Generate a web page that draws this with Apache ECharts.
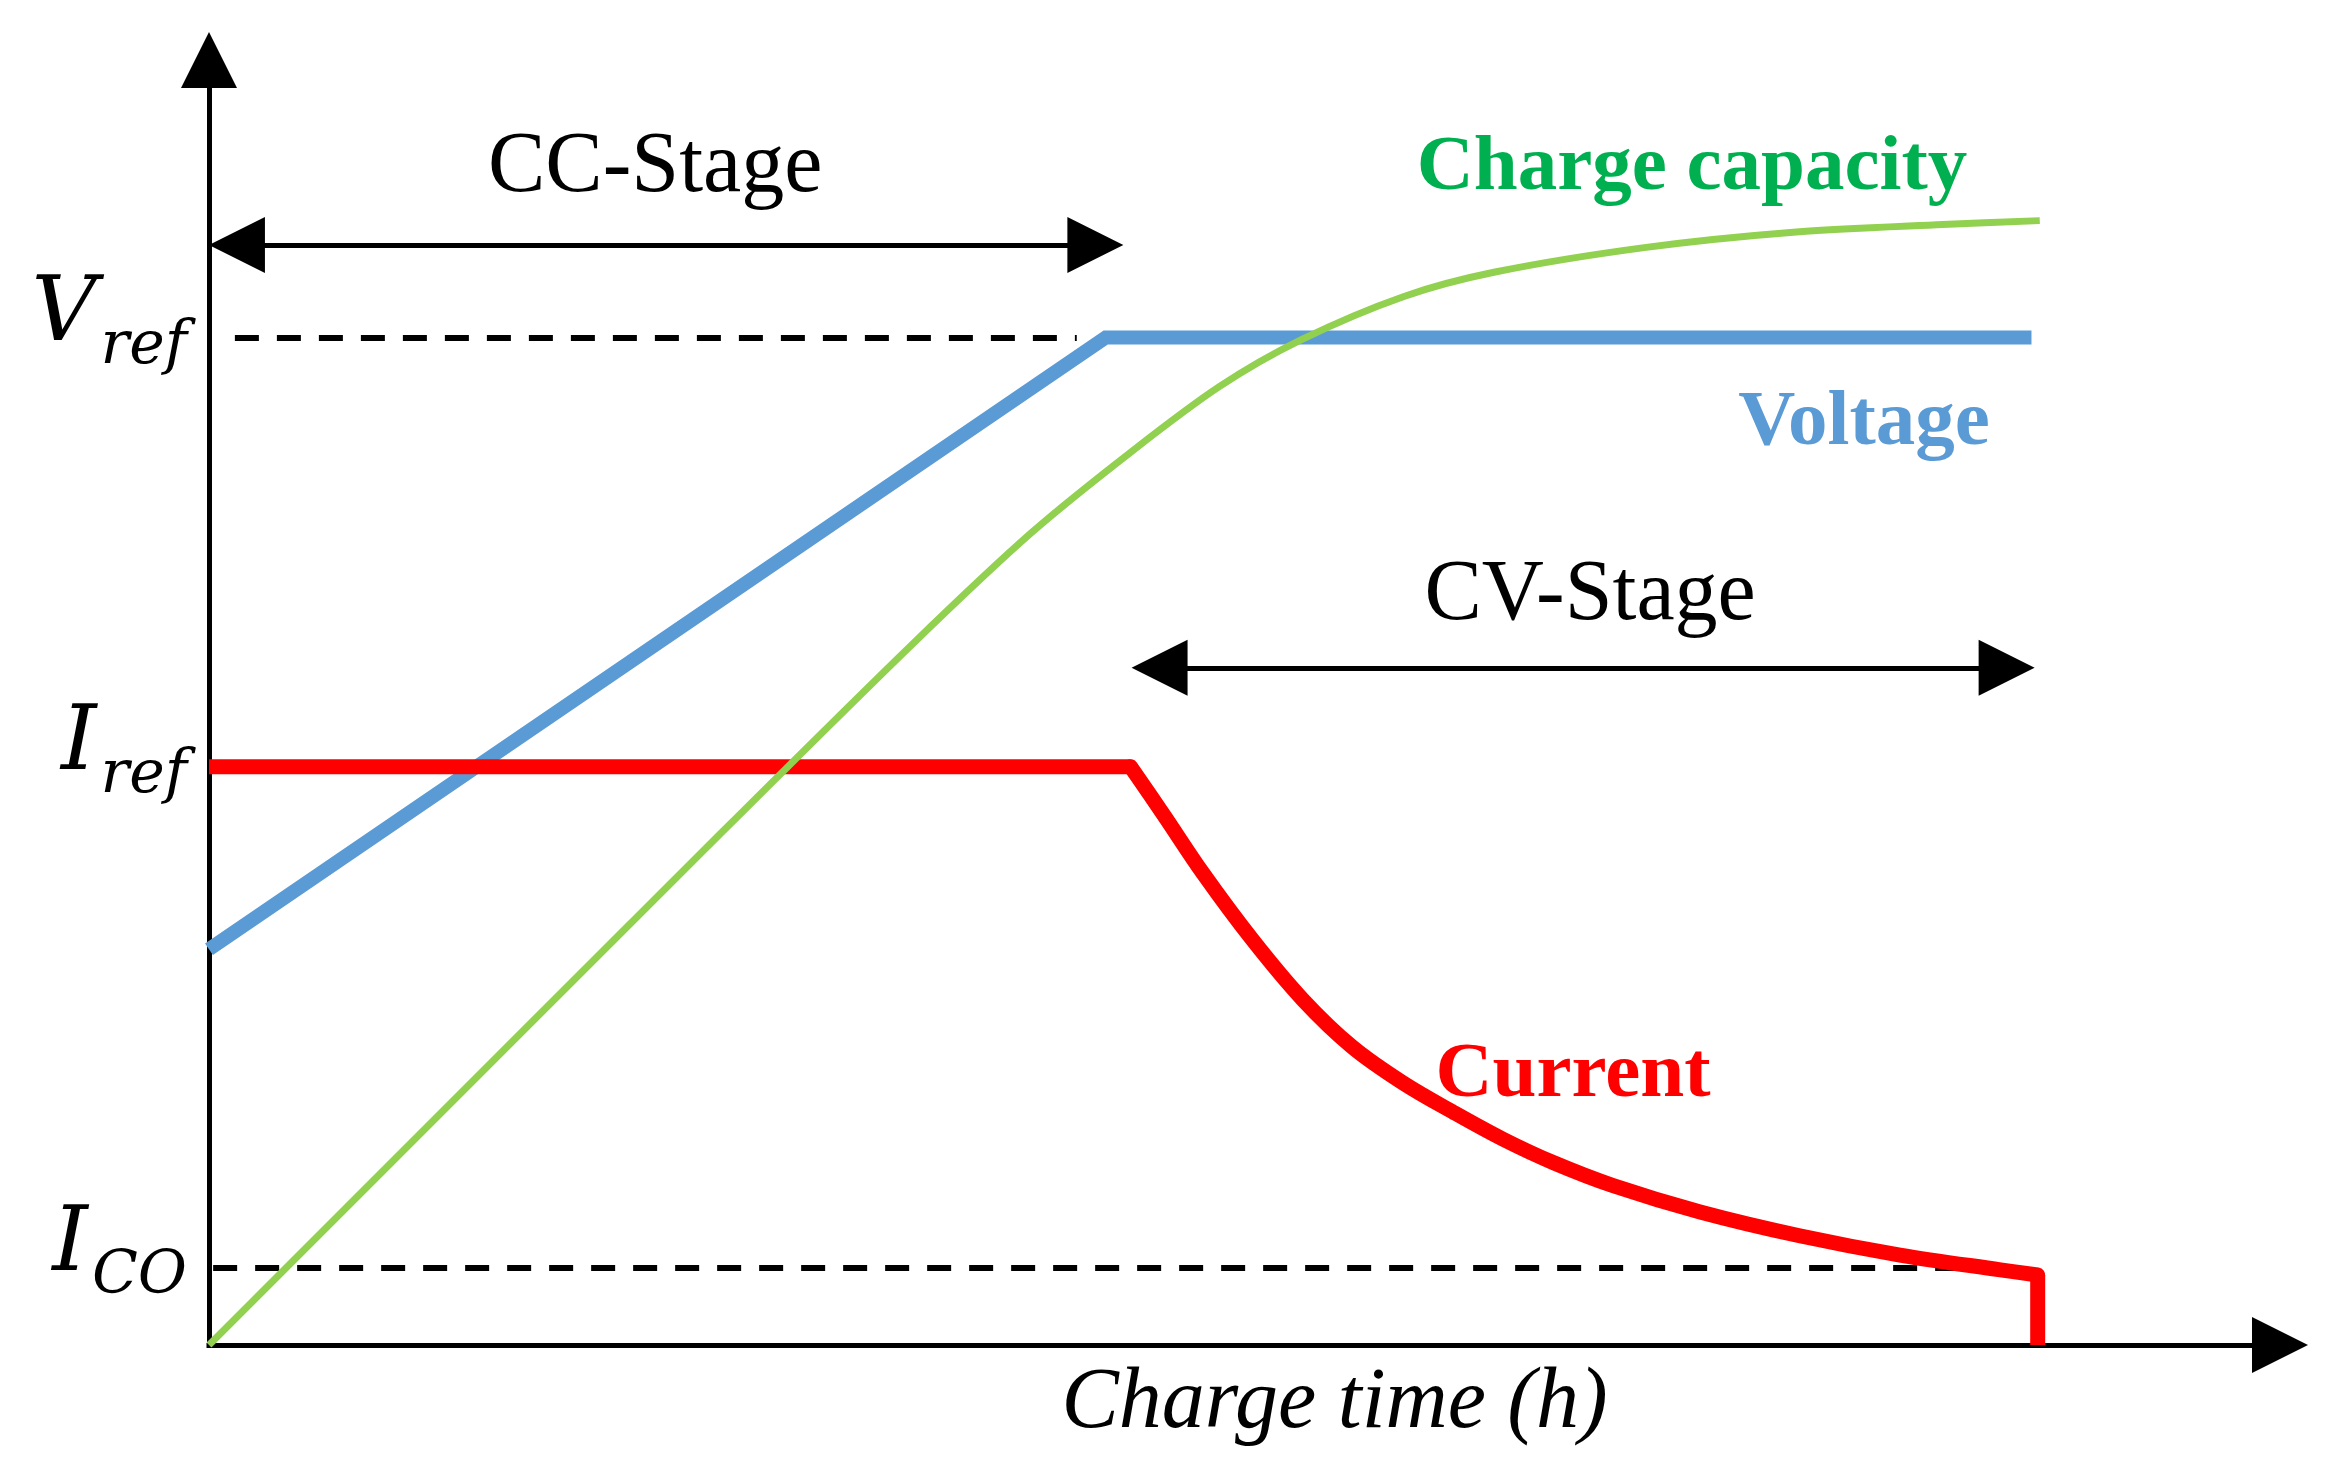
<!DOCTYPE html>
<html>
<head>
<meta charset="utf-8">
<script src="https://cdn.jsdelivr.net/npm/echarts@6/dist/echarts.min.js"></script>
<style>
  html, body { margin: 0; background: #fff; }
  #main { width: 2344px; height: 1476px; }
</style>
</head>
<body>
<div id="main"></div>
<script>
// values (x: charge time, y: level, arbitrary units 0-100)
const voltagePts = [[0, 30.8], [43.3, 78.4], [88.0, 78.4]];
// current: constant part, decaying part, final cut-off drop
const currentCC = [[0, 45], [44.5, 45]];
const currentCV = [
  [44.5, 45], [46.1, 41.25], [48.0, 36.7], [50.4, 31.5], [52.8, 26.9], [55.2, 23.2],
  [57.65, 20.4], [60.1, 18.1], [62.5, 16.0], [64.9, 14.2], [67.8, 12.4], [72.0, 10.35],
  [76.8, 8.5], [81.65, 7.0], [86.5, 5.85], [88.3, 5.45]
];
const currentCut = [[88.3, 5.45], [88.3, 0]];
const capacityPts = [
  [0, 0], [24.7, 39.8], [34.0, 54.6], [39.7, 63.2], [44.6, 69.6], [48.8, 74.6],
  [52.7, 78.2], [57.7, 81.6], [62.1, 83.5], [69.3, 85.4], [76.5, 86.6], [83.7, 87.2],
  [88.4, 87.5]
];

// reference levels on the y axis
const yTicks = [6.0, 45, 78.4];
const yTickNames = ['{m|I}{s|CO}', '{m|I}{s|ref}', '{m|V}{s|ref}'];

// dashed guide lines and stage arrows (start / end point)
const vrefGuide = [[1.25, 78.4], [41.9, 78.4]];
const icoGuide = [[0.2, 6.0], [86.0, 6.0]];
const ccStage = [[1.35, 85.6], [42.8, 85.6]];
const cvStage = [[45.9, 52.7], [86.8, 52.7]];

const FONT = 'Liberation Serif';
const MATH_FONT = 'DejaVu Serif';

const chart = echarts.init(document.getElementById('main'));

const axisLine = {
  symbol: ['none', 'triangle'],
  symbolSize: [56, 56],
  lineStyle: { color: '#000', width: 5, cap: 'square' }
};

const redLine = { color: '#FF0000', width: 15, join: 'miter' };

const option = {
  animation: false,
  backgroundColor: '#fff',
  grid: { left: 209, right: 64, top: 60, bottom: 131 },
  xAxis: {
    type: 'value', min: 0, max: 100,
    axisLine: axisLine,
    axisTick: { show: false },
    axisLabel: { show: false },
    splitLine: { show: false },
    name: 'Charge time (h)',
    nameLocation: 'middle',
    nameGap: 16,
    nameTextStyle: {
      fontFamily: FONT, fontStyle: 'italic', fontSize: 86, color: '#000',
      padding: [0, 0, 0, 180]
    }
  },
  yAxis: {
    type: 'value', min: 0, max: 100,
    axisLine: axisLine,
    axisTick: { show: false },
    splitLine: { show: false },
    axisLabel: {
      customValues: yTicks,
      margin: 22,
      padding: [0, 0, 42, 0],
      formatter: function (v) {
        let best = 0;
        yTicks.forEach((t, i) => { if (Math.abs(t - v) < Math.abs(yTicks[best] - v)) best = i; });
        return yTickNames[best];
      },
      rich: {
        m: { fontFamily: MATH_FONT, fontStyle: 'italic', fontSize: 90, lineHeight: 92, color: '#000' },
        s: { fontFamily: MATH_FONT, fontStyle: 'italic', fontSize: 60, lineHeight: 30, padding: [62, 0, 0, 4], color: '#000' }
      }
    }
  },
  graphic: [
    { type: 'text', x: 1692, y: 169, style: { text: 'Charge capacity', fontFamily: FONT, fontWeight: 'bold', fontSize: 79, fill: '#00B050', align: 'center', verticalAlign: 'middle' } },
    { type: 'text', x: 1864, y: 424, style: { text: 'Voltage', fontFamily: FONT, fontWeight: 'bold', fontSize: 79, fill: '#5B9BD5', align: 'center', verticalAlign: 'middle' } },
    { type: 'text', x: 1573, y: 1076, style: { text: 'Current', fontFamily: FONT, fontWeight: 'bold', fontSize: 79, fill: '#FF0000', align: 'center', verticalAlign: 'middle' } }
  ],
  series: [
    {
      // dashed guides, kept under the curves
      type: 'line', data: [], z: 1,
      markLine: {
        z: 1, silent: true, symbol: 'none', label: { show: false },
        lineStyle: { color: '#000', width: 6, type: [24, 18] },
        data: [
          [{ coord: vrefGuide[0] }, { coord: vrefGuide[1] }],
          [{ coord: icoGuide[0] }, { coord: icoGuide[1] }]
        ]
      }
    },
    {
      name: 'Voltage', type: 'line', data: voltagePts, symbol: 'none', z: 3,
      lineStyle: { color: '#5B9BD5', width: 14, join: 'miter' }
    },
    {
      name: 'Current', type: 'line', data: currentCC, symbol: 'none', z: 4,
      lineStyle: redLine
    },
    {
      name: 'Current', type: 'line', data: currentCV, symbol: 'none', smooth: 0.35, z: 4,
      lineStyle: Object.assign({}, redLine, { cap: 'round' })
    },
    {
      name: 'Current', type: 'line', data: currentCut, symbol: 'none', z: 4,
      lineStyle: redLine
    },
    {
      name: 'Charge capacity', type: 'line', data: capacityPts, symbol: 'none', smooth: 0.3, z: 5,
      lineStyle: { color: '#92D050', width: 7 }
    },
    {
      // stage arrows
      type: 'line', data: [], z: 6,
      markLine: {
        z: 6, silent: true,
        symbol: ['triangle', 'triangle'],
        symbolSize: 56,
        lineStyle: { color: '#000', width: 5, type: 'solid' },
        label: {
          show: true, position: 'middle', color: '#000',
          fontFamily: FONT, fontSize: 86, lineHeight: 86
        },
        data: [
          [{ coord: ccStage[0], label: { formatter: 'CC-Stage', distance: 34, padding: [0, 22, 0, 0] } }, { coord: ccStage[1] }],
          [{ coord: cvStage[0], label: { formatter: 'CV-Stage', distance: 28, padding: [0, 0, 0, 14] } }, { coord: cvStage[1] }]
        ]
      }
    }
  ]
};

chart.setOption(option);
</script>
</body>
</html>
